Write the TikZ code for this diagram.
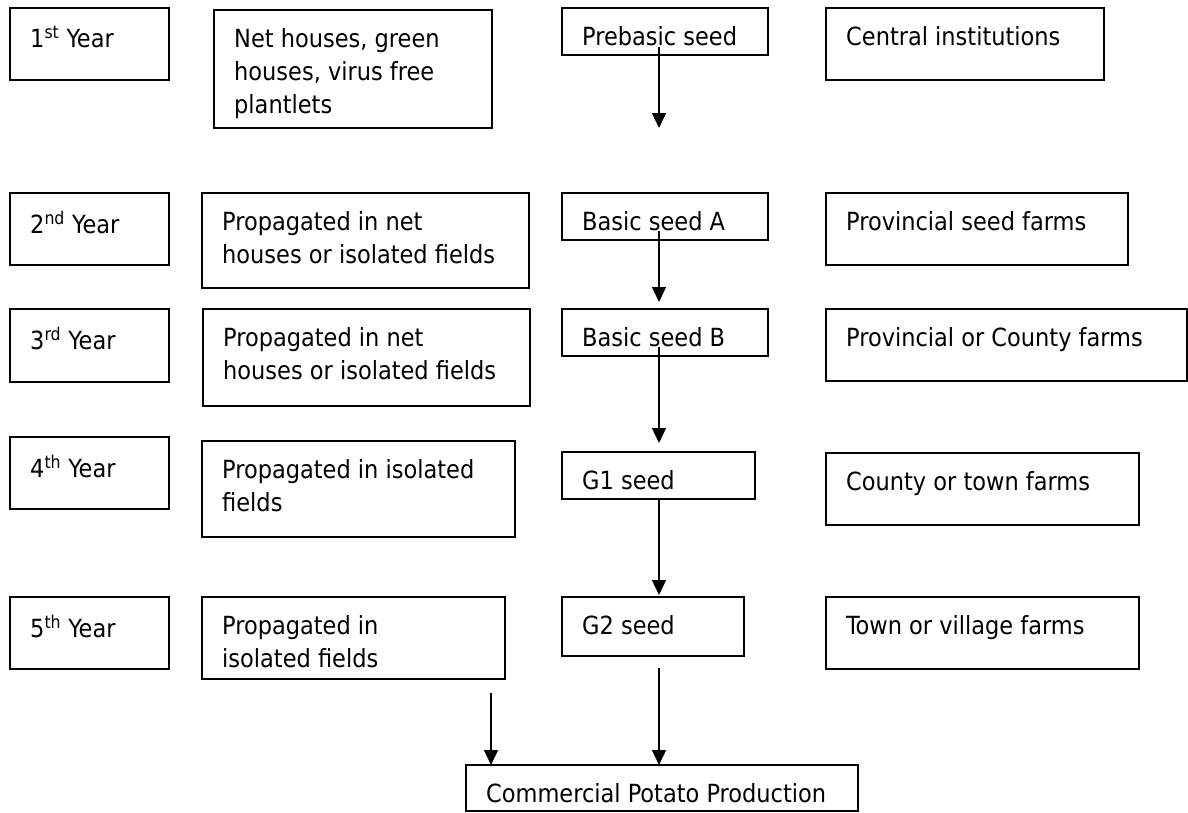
\documentclass[tikz,border=0pt]{standalone}
\usepackage{fontspec}
\setmainfont{DejaVu Sans Condensed}
\usetikzlibrary{arrows.meta}
\tikzset{
  box/.style={draw, line width=1.3pt, anchor=north west, inner sep=0pt, outer sep=0pt},
  txt/.style={anchor=north west, inner sep=0pt, align=left, font=\fontsize{25}{33}\selectfont},
  flow/.style={line width=1.3pt, -{Triangle[width=14pt,length=15pt]}}
}
\begin{document}
\begin{tikzpicture}[x=1pt, y=-1pt]
        \useasboundingbox (0,0) rectangle (1188,812);
        % 1st year
        \node[box, minimum width=159pt, minimum height=72pt]  (year1) at (10,8)   {};
        \node[box, minimum width=278pt, minimum height=118pt] (net)   at (214,10) {};
        \node[box, minimum width=206pt, minimum height=47pt]  (pre)   at (562,8)  {};
        \node[box, minimum width=278pt, minimum height=72pt]  (cen)   at (826,8)  {};
        \node[txt] (year1-t) at ([shift={(20pt,-18pt)}]year1.north west) {1\textsuperscript{st} Year};
        \node[txt] (net-t)   at ([shift={(20pt,-18pt)}]net.north west)   {Net houses, green\\houses, virus free\\plantlets};
        \node[txt] (pre-t)   at ([shift={(20pt,-18pt)}]pre.north west)   {Prebasic seed};
        \node[txt] (cen-t)   at ([shift={(20pt,-18pt)}]cen.north west)   {Central institutions};
        % 2nd year
        \node[box, minimum width=159pt, minimum height=72pt]  (year2) at (10,193)  {};
        \node[box, minimum width=327pt, minimum height=95pt]  (propA) at (202,193) {};
        \node[box, minimum width=206pt, minimum height=47pt]  (seedA) at (562,193) {};
        \node[box, minimum width=302pt, minimum height=72pt]  (prov)  at (826,193) {};
        \node[txt] (year2-t) at ([shift={(20pt,-18pt)}]year2.north west) {2\textsuperscript{nd} Year};
        \node[txt] (propA-t) at ([shift={(20pt,-18pt)}]propA.north west) {Propagated in net\\houses or isolated fields};
        \node[txt] (seedA-t) at ([shift={(20pt,-18pt)}]seedA.north west) {Basic seed A};
        \node[txt] (prov-t)  at ([shift={(20pt,-18pt)}]prov.north west)  {Provincial seed farms};
        % 3rd year
        \node[box, minimum width=159pt, minimum height=73pt]  (year3)  at (10,309)  {};
        \node[box, minimum width=327pt, minimum height=97pt]  (propB)  at (203,309) {};
        \node[box, minimum width=206pt, minimum height=47pt]  (seedB)  at (562,309) {};
        \node[box, minimum width=361pt, minimum height=72pt]  (county) at (826,309) {};
        \node[txt] (year3-t)  at ([shift={(20pt,-18pt)}]year3.north west)  {3\textsuperscript{rd} Year};
        \node[txt] (propB-t)  at ([shift={(20pt,-18pt)}]propB.north west)  {Propagated in net\\houses or isolated fields};
        \node[txt] (seedB-t)  at ([shift={(20pt,-18pt)}]seedB.north west)  {Basic seed B};
        \node[txt] (county-t) at ([shift={(20pt,-18pt)}]county.north west) {Provincial or County farms};
        % 4th year
        \node[box, minimum width=159pt, minimum height=72pt]  (year4) at (10,437)  {};
        \node[box, minimum width=313pt, minimum height=96pt]  (propC) at (202,441) {};
        \node[box, minimum width=193pt, minimum height=47pt]  (gone)  at (562,452) {};
        \node[box, minimum width=313pt, minimum height=72pt]  (town)  at (826,453) {};
        \node[txt] (year4-t) at ([shift={(20pt,-18pt)}]year4.north west) {4\textsuperscript{th} Year};
        \node[txt] (propC-t) at ([shift={(20pt,-18pt)}]propC.north west) {Propagated in isolated\\fields};
        \node[txt] (gone-t)  at ([shift={(20pt,-18pt)}]gone.north west)  {G1 seed};
        \node[txt] (town-t)  at ([shift={(20pt,-18pt)}]town.north west)  {County or town farms};
        % 5th year
        \node[box, minimum width=159pt, minimum height=72pt]  (year5)   at (10,597)  {};
        \node[box, minimum width=303pt, minimum height=82pt]  (propD)   at (202,597) {};
        \node[box, minimum width=182pt, minimum height=59pt]  (gtwo)    at (562,597) {};
        \node[box, minimum width=313pt, minimum height=72pt]  (village) at (826,597) {};
        \node[txt] (year5-t)   at ([shift={(20pt,-18pt)}]year5.north west)   {5\textsuperscript{th} Year};
        \node[txt] (propD-t)   at ([shift={(20pt,-18pt)}]propD.north west)   {Propagated in\\isolated fields};
        \node[txt] (gtwo-t)    at ([shift={(20pt,-18pt)}]gtwo.north west)    {G2 seed};
        \node[txt] (village-t) at ([shift={(20pt,-18pt)}]village.north west) {Town or village farms};
        % output
        \node[box, minimum width=392pt, minimum height=46pt] (potato) at (466,765) {};
        \node[txt] (potato-t) at ([shift={(20pt,-18pt)}]potato.north west) {Commercial Potato Production};
        % arrows
        \coordinate (pre-end)   at (659,128);
        \coordinate (seedA-end) at (659,302);
        \coordinate (seedB-end) at (659,443);
        \coordinate (gone-end)  at (659,595);
        \draw[flow] ([shift={(-6pt,8pt)}]pre.south)   -- (pre-end);
        \draw[flow] ([shift={(-6pt,9pt)}]seedA.south) -- (seedA-end);
        \draw[flow] ([shift={(-6pt,9pt)}]seedB.south) -- (seedB-end);
        \draw[flow] ([xshift=0.5pt]gone.south) -- (gone-end);
        \draw[flow] ([shift={(6pt,-12pt)}]gtwo.south) -- ([xshift=-3pt]potato.north);
        \draw[flow] ([shift={(-14pt,-14pt)}]propD.south east) -- ([xshift=25pt]potato.north west);
\end{tikzpicture}
\end{document}
